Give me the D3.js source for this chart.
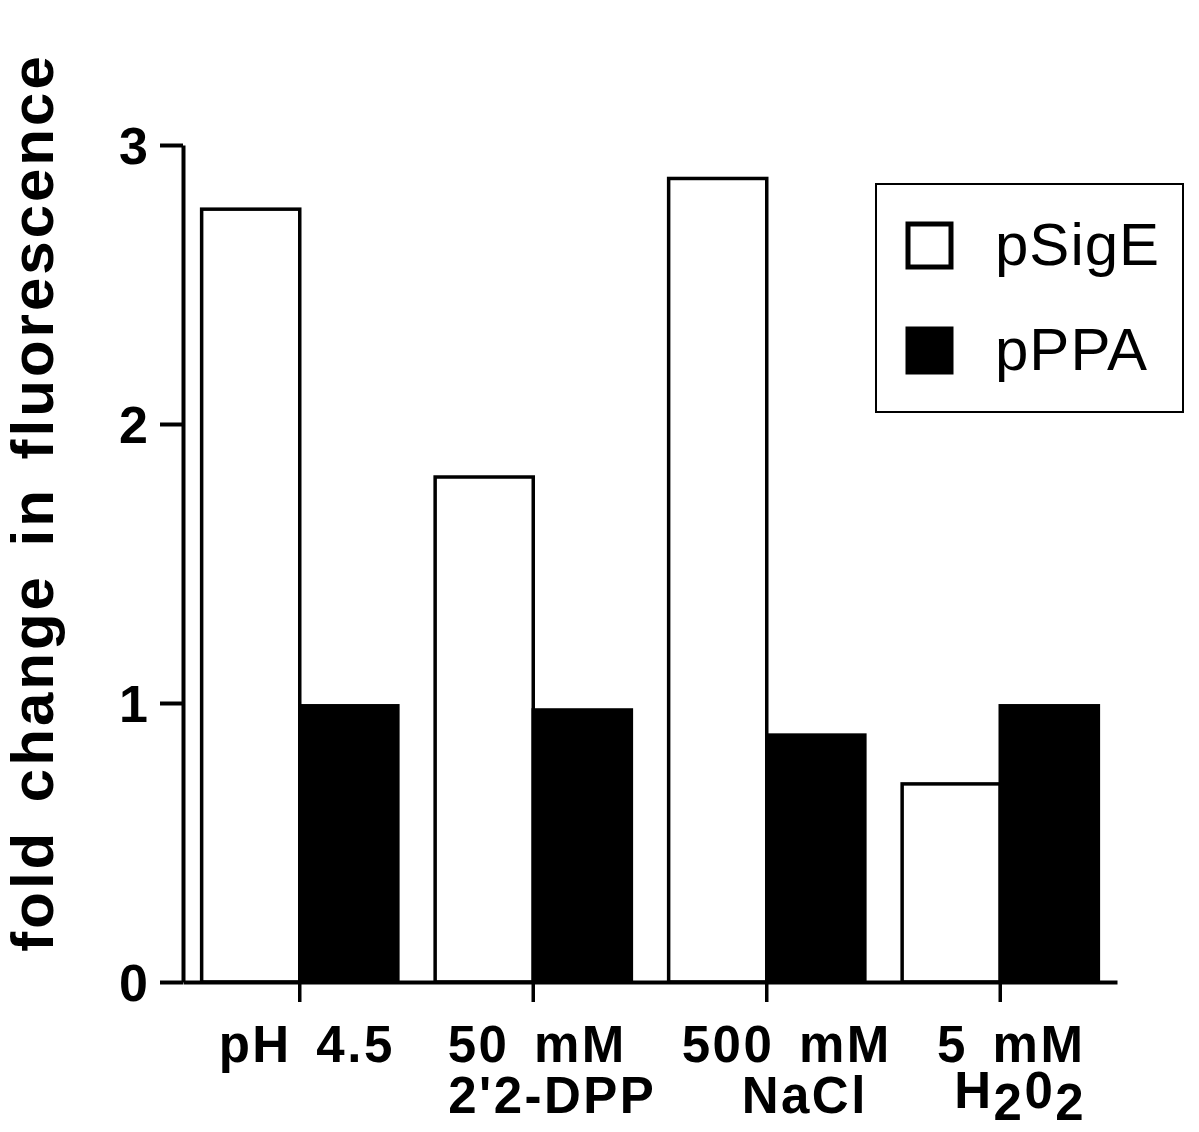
<!DOCTYPE html>
<html>
<head>
<meta charset="utf-8">
<script src="https://cdn.jsdelivr.net/npm/d3@7"></script>
<style>
  body { margin: 0; background: #fff; }
  svg { display: block; font-family: "Liberation Sans", Arial, Helvetica, sans-serif; }
</style>
</head>
<body>
<div id="chart"></div>
<script>
// data
const categories = ["pH 4.5", "50 mM 2'2-DPP", "500 mM NaCl", "5 mM H2O2"];
const labelTop = ["pH 4.5", "50 mM", "500 mM", "5 mM"];
const labelBottom = ["", "2'2-DPP", "NaCl", "H2O2"];
const series = ["pSigE", "pPPA"];
const pSigE = [2.77, 1.81, 2.88, 0.71];
const pPPA = [0.99, 0.975, 0.885, 0.99];
const yTicks = [0, 1, 2, 3];

const width = 1199, height = 1132;
const plotLeft = 183, plotRight = 1117, plotTop = 145, plotBottom = 982;

const svg = d3.select("#chart").append("svg")
    .attr("width", width)
    .attr("height", height);

const x0 = d3.scaleBand().domain(categories).range([plotLeft, plotRight]);
const x1 = d3.scaleBand().domain(series).range([0, x0.bandwidth()]).paddingOuter(0.19);
const y = d3.scaleLinear().domain([0, 3]).range([plotBottom, plotTop]);

const values = {pSigE, pPPA};
const fills = {pSigE: "#fff", pPPA: "#000"};

// bars
categories.forEach((c, i) => {
    series.forEach(s => {
        svg.append("rect")
            .attr("x", x0(c) + x1(s))
            .attr("y", y(values[s][i]))
            .attr("width", x1.bandwidth())
            .attr("height", y(0) - y(values[s][i]))
            .attr("fill", fills[s])
            .attr("stroke", "#000")
            .attr("stroke-width", 3.5);
    });
});

// y axis
const yAxis = svg.append("g")
    .attr("transform", `translate(${plotLeft},0)`)
    .call(d3.axisLeft(y).tickValues(yTicks).tickFormat(d3.format("d")).tickSize(23).tickSizeOuter(0));
yAxis.select(".domain").attr("stroke-width", 4);
yAxis.selectAll(".tick line").attr("stroke-width", 4);
yAxis.selectAll(".tick text")
    .attr("x", -35)
    .attr("dy", "0.36em")
    .style("font-size", "52px")
    .style("font-weight", "bold")
    .attr("fill", "#000");

// x axis
const xAxis = svg.append("g")
    .attr("transform", `translate(0,${plotBottom})`)
    .call(d3.axisBottom(x0).tickSize(20).tickSizeOuter(0).tickFormat(""));
xAxis.select(".domain").attr("stroke-width", 4);
xAxis.selectAll(".tick line").attr("stroke-width", 3.5);

// x labels (two lines, slightly right of the tick as in the original)
const topShift = [7, 4, 20, 11];
const bottomShift = [0, 19, 38, 20];
const labelG = svg.append("g")
    .style("font-size", "51px")
    .style("font-weight", "bold")
    .attr("text-anchor", "middle")
    .style("letter-spacing", "2.5px")
    .style("word-spacing", "8px");
categories.forEach((c, i) => {
    const cx = x0(c) + x0.bandwidth() / 2;
    labelG.append("text").attr("x", cx + topShift[i]).attr("y", 1062).text(labelTop[i]);
    const b = labelBottom[i];
    if (b === "H2O2") {
        const t = labelG.append("text").attr("x", cx + bottomShift[i]).attr("y", 1108);
        t.append("tspan").text("H");
        t.append("tspan").attr("dy", 12).text("2");
        t.append("tspan").attr("dy", -12).text("0");
        t.append("tspan").attr("dy", 12).text("2");
    } else if (b) {
        labelG.append("text").attr("x", cx + bottomShift[i]).attr("y", 1113).text(b);
    }
});

// y title
svg.append("text")
    .attr("transform", `translate(53,${(55 + 950) / 2}) rotate(-90)`)
    .attr("text-anchor", "middle")
    .style("font-size", "60px")
    .style("font-weight", "bold")
    .style("letter-spacing", "3px")
    .style("word-spacing", "8px")
    .text("fold change in fluorescence");

// legend
const legend = svg.append("g");
legend.append("rect")
    .attr("x", 876).attr("y", 184)
    .attr("width", 307).attr("height", 228)
    .attr("fill", "#fff").attr("stroke", "#000").attr("stroke-width", 2);
series.forEach((s, i) => {
    const ly = 222 + i * 105;
    legend.append("rect")
        .attr("x", 908).attr("y", ly + 2)
        .attr("width", 43).attr("height", 43)
        .attr("fill", fills[s]).attr("stroke", "#000").attr("stroke-width", 5);
    legend.append("text")
        .attr("x", 995).attr("y", ly + 43)
        .style("font-size", "60px")
        .style("letter-spacing", "1px")
        .text(s);
});
</script>
</body>
</html>
